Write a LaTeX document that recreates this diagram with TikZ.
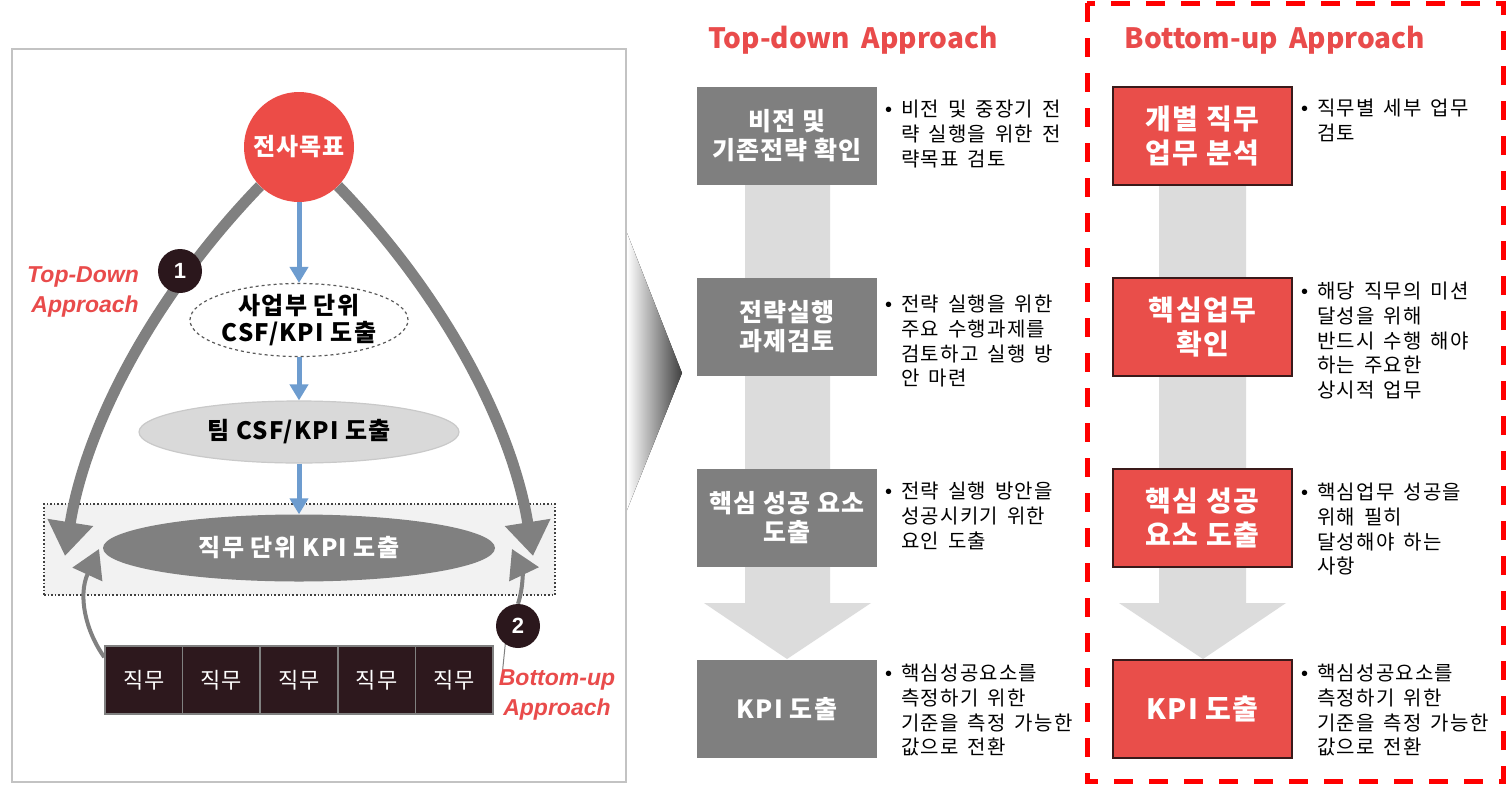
\documentclass[tikz,border=0pt]{standalone}
\usepackage{fontspec}
\usetikzlibrary{shapes.geometric,arrows.meta}
\newfontfamily\kr{Noto Sans CJK KR}[LetterSpace=5]
\newfontfamily\krb{Noto Sans CJK KR}[LetterSpace=6,WordSpace=1.6]
\newfontfamily\krt{Noto Sans CJK KR}[WordSpace=1.8]
\newfontfamily\lat{Liberation Sans}
\definecolor{boxgray}{HTML}{7F7F7F}
\definecolor{boxred}{HTML}{E94E4A}
\definecolor{redborder}{HTML}{3A1A1A}
\definecolor{titlered}{HTML}{E94B4B}
\definecolor{goalred}{HTML}{EC4C47}
\definecolor{darkc}{HTML}{2B171C}
\definecolor{jobfill}{HTML}{2D181D}
\definecolor{lightfill}{HTML}{D9D9D9}
\definecolor{lightdraw}{HTML}{C9C9C9}
\definecolor{zonefill}{HTML}{F2F2F2}
\definecolor{blueA}{HTML}{6D9CCF}
\definecolor{arrgray}{HTML}{808080}
\definecolor{panelgray}{HTML}{C3C3C3}
\definecolor{lightarr}{HTML}{DCDCDC}
\pgfdeclarelayer{back}
\pgfdeclarelayer{mid}
\pgfsetlayers{back,mid,main}
\newcommand\bulmark{\makebox[16pt][l]{\lat •}}
\newcommand\bulind{\hspace*{16pt}}
\tikzset{
  gbox/.style={rectangle, fill=boxgray, minimum width=180pt, minimum height=98pt, inner sep=0pt, text=white, font=\kr\bfseries\fontsize{25}{29}\selectfont, align=center},
  rbox/.style={rectangle, fill=boxred, draw=redborder, line width=1.5pt, minimum width=179pt, minimum height=98pt, inner sep=0pt, text=white, font=\kr\bfseries\fontsize{28}{34}\selectfont, align=center},
  bul/.style={anchor=north west, inner sep=0pt, align=left, font=\krb\fontsize{20}{24.7}\selectfont},
  ttl/.style={text=titlered, font=\krt\bfseries\fontsize{28}{34}\selectfont, inner sep=0pt},
  goalc/.style={circle, fill=goalred, minimum size=110pt, inner sep=0pt, text=white, font=\kr\bfseries\fontsize{24}{28}\selectfont},
  dashell/.style={ellipse, draw=black!65, dashed, line width=1.2pt, fill=white, minimum width=200pt, minimum height=64pt, inner sep=0pt, align=center, font=\kr\bfseries\fontsize{24}{27}\selectfont},
  lightell/.style={ellipse, draw=lightdraw, line width=1.2pt, fill=lightfill, minimum width=320pt, minimum height=62pt, inner sep=0pt, font=\kr\bfseries\fontsize{24}{27}\selectfont},
  darkell/.style={ellipse, fill=arrgray, minimum width=392pt, minimum height=67pt, inner sep=0pt, text=white, font=\kr\bfseries\fontsize{24}{27}\selectfont},
  zonebox/.style={rectangle, draw=black!75, dotted, line width=1.6pt, fill=zonefill, minimum width=511pt, minimum height=91pt, inner sep=0pt},
  jobbox/.style={rectangle, fill=jobfill, draw=arrgray, line width=1.5pt, minimum width=77.6pt, minimum height=68pt, inner sep=0pt, text=white, font=\kr\fontsize{22}{25}\selectfont},
  numc/.style={circle, fill=darkc, minimum size=44pt, inner sep=0pt, text=white, font=\lat\bfseries\fontsize{22}{26}\selectfont},
  redital/.style={text=titlered, inner sep=0pt, font=\lat\bfseries\itshape\fontsize{23}{30}\selectfont},
  bluearr/.style={draw=blueA, line width=5pt, -{Triangle[width=18pt,length=16pt]}},
  bigarr/.style={draw=arrgray, line width=11pt, -{Triangle[width=44pt,length=34pt]}},
  smallarr/.style={draw=arrgray, line width=4pt, -{Triangle[width=32pt,length=28pt]}},
}
\begin{document}
\begin{tikzpicture}[x=1pt,y=-1pt]
\useasboundingbox (0,0) rectangle (1510,785);
\begin{pgfonlayer}{back}
  \fill[white] (0,0) rectangle (1510,785);
  \draw[draw=panelgray, line width=2.5pt] (12,49) rectangle (626,782);
  \node[zonebox] (zone) at (299.5,549.5) {};
\end{pgfonlayer}

% left panel
\node[goalc] (goal) at (299,147) {전사목표};
\node[dashell] (bu) at (299,320) {사업부 단위\\CSF/KPI 도출};
\node[lightell] (team) at (299,432) {팀 CSF/KPI 도출};
\node[darkell] (job) at (299,548) {직무 단위 KPI 도출};
\draw[bluearr] (goal) -- (bu);
\draw[bluearr] (bu) -- (team);
\draw[bluearr] (team) -- (job);

\foreach \i/\x in {1/143.8,2/221.4,3/299,4/376.6,5/454.2}
  \node[jobbox] (j\i) at (\x,680) {직무};

\node[numc] (n1) at (180,271) {1};
\node[numc] (n2) at (518,626) {2};
\node[redital, anchor=east, align=right] (tda) at (139,292) {Top-Down\\Approach};
\node[redital, align=center] (bua) at (557,695) {Bottom-up\\Approach};

\begin{pgfonlayer}{mid}
  \coordinate (tl) at (65,556);
  \coordinate (tr) at (533,556);
  \draw[bigarr] (goal.225) .. controls (150,300) and (85,430) .. (tl);
  \draw[bigarr] (goal.-45) .. controls (448,300) and (513,430) .. (tr);
  \coordinate (la) at (99,549);
  \coordinate (ra) at (512,549);
  \draw[smallarr] (j1.150) .. controls (85,630) and (78,595) .. (la);
  \draw[smallarr] (n2.north) .. controls (524,585) and (522,570) .. (ra);
  \draw[draw=arrgray, line width=1pt] (n2.235) -- ([xshift=4pt]bua.north west);
\end{pgfonlayer}

% chevron
\fill[left color=white, right color=black!75] (627,233) -- (682,373) -- (627,510) -- cycle;

% titles
\node[ttl] (tdt) at (853,40) {Top-down Approach};
\node[ttl] (but) at (1275,40) {Bottom-up Approach};

% light arrows
\fill[lightarr] (745,160) -- (830,160) -- (830,603) -- (871,603) -- (787,659) -- (704,603) -- (745,603) -- cycle;
\fill[lightarr] (1159,160) -- (1246,160) -- (1246,603) -- (1286,603) -- (1203,659) -- (1119,603) -- (1159,603) -- cycle;

% top-down boxes
\node[gbox] (g1) at (787,135.5) {비전 및\\기존전략 확인};
\node[gbox] (g2) at (787,327) {전략실행\\과제검토};
\node[gbox] (g3) at (787,518) {핵심 성공 요소\\도출};
\node[gbox] (g4) at (787,709) {KPI 도출};

\node[bul] (b1) at (885,100) {\bulmark 비전 및 중장기 전\\\bulind 략 실행을 위한 전\\\bulind 략목표 검토};
\node[bul] (b2) at (885,295) {\bulmark 전략 실행을 위한\\\bulind 주요 수행과제를\\\bulind 검토하고 실행 방\\\bulind 안 마련};
\node[bul] (b3) at (885,482) {\bulmark 전략 실행 방안을\\\bulind 성공시키기 위한\\\bulind 요인 도출};
\node[bul] (b4) at (885,664) {\bulmark 핵심성공요소를\\\bulind 측정하기 위한\\\bulind 기준을 측정 가능한\\\bulind 값으로 전환};

% bottom-up boxes
\node[rbox] (r1) at (1202.5,136) {개별 직무\\업무 분석};
\node[rbox] (r2) at (1202.5,327) {핵심업무\\확인};
\node[rbox] (r3) at (1202.5,518) {핵심 성공\\요소 도출};
\node[rbox] (r4) at (1202.5,709) {KPI 도출};

\node[bul] (c1) at (1301,99) {\bulmark 직무별 세부 업무\\\bulind 검토};
\node[bul] (c2) at (1301,282) {\bulmark 해당 직무의 미션\\\bulind 달성을 위해\\\bulind 반드시 수행 해야\\\bulind 하는 주요한\\\bulind 상시적 업무};
\node[bul] (c3) at (1301,483) {\bulmark 핵심업무 성공을\\\bulind 위해 필히\\\bulind 달성해야 하는\\\bulind 사항};
\node[bul] (c4) at (1301,664) {\bulmark 핵심성공요소를\\\bulind 측정하기 위한\\\bulind 기준을 측정 가능한\\\bulind 값으로 전환};

% red dashed frame
\draw[draw=red, line width=5pt, dash pattern=on 19pt off 16pt] (1087,3) rectangle (1503,781);
\end{tikzpicture}
\end{document}
